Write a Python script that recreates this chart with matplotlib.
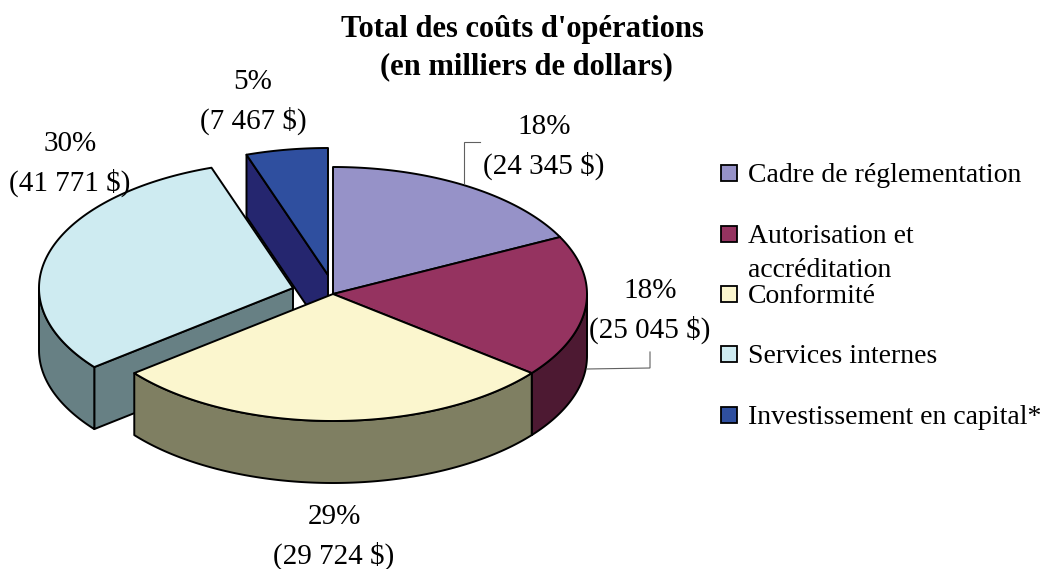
import numpy as np
import matplotlib
matplotlib.use("Agg")
import matplotlib.pyplot as plt
from matplotlib.patches import Polygon, Rectangle

plt.rcParams['font.family'] = ['Liberation Serif', 'DejaVu Serif']

# --- data ---
categories = ["Cadre de réglementation", "Autorisation et\naccréditation", "Conformité",
              "Services internes", "Investissement en capital*"]
percents = [18, 18, 29, 30, 5]
slice_shares = [17.6, 18.1, 28.6, 30.5, 5.2]   # shares as drawn in the picture
amounts = ["24 345", "25 045", "29 724", "41 771", "7 467"]
title_lines = ["Total des coûts d'opérations", "(en milliers de dollars)"]

# --- style ---
top_colors = ["#9692C8", "#953360", "#FBF6CE", "#CEEBF1", "#2F4F9F"]
side_colors = ["#4B4964", "#4D1932", "#7F7F62", "#678084", "#25266F"]
explode = [(0, 0), (0, 0), (0, 0), (-40, -6), (-5, -19)]
draw_order = [4, 3, 0, 1, 2]
label_pos = [(544, 147), (650, 311), (334, 537), (70, 164), (253, 102)]
legend_y = [173, 234, 294, 354, 415]
CX, CY, RX, RY, DEPTH = 333, 294, 254, 127, 62
LW = 1.4
EDGE = "black"

fig = plt.figure(figsize=(10.43, 5.69), dpi=100)
ax = fig.add_axes([0, 0, 1, 1])
ax.set_xlim(0, 1043)
ax.set_ylim(569, 0)
ax.axis("off")


def arc(cx, cy, a0, a1, dy=0):
    t = np.radians(np.linspace(a0, a1, max(int(abs(a1 - a0)) * 2, 2)))
    return np.column_stack([cx + RX * np.sin(t), cy - RY * np.cos(t) + dy])


def poly(pts, color):
    ax.add_patch(Polygon(pts, closed=True, facecolor=color, edgecolor=EDGE,
                         linewidth=LW, joinstyle="round"))


edges = np.concatenate([[0], np.cumsum(slice_shares)]) * 3.6
for i in draw_order:
    a0, a1 = edges[i], edges[i + 1]
    cx, cy = CX + explode[i][0], CY + explode[i][1]
    apex = np.array([cx, cy])
    # visible radial faces
    for a, visible in ((a0, np.sin(np.radians(a0)) < -1e-6), (a1, np.sin(np.radians(a1)) > 1e-6)):
        if visible:
            p = arc(cx, cy, a, a + 1e-3)[0]
            poly([apex, p, p + [0, DEPTH], apex + [0, DEPTH]], side_colors[i])
    # visible outer wall
    w0, w1 = max(a0, 90), min(a1, 270)
    if w1 > w0:
        poly(np.vstack([arc(cx, cy, w0, w1), arc(cx, cy, w1, w0, DEPTH)]), side_colors[i])
    # top face
    poly(np.vstack([[apex], arc(cx, cy, a0, a1)]), top_colors[i])

# leader lines
ax.plot([464, 464, 480], [183, 142, 142], color="#606060", lw=0.8, solid_joinstyle="miter")
ax.plot([587, 650, 650], [369, 368, 352], color="#606060", lw=0.8, solid_joinstyle="miter")

# data labels
for (x, y), p, amt in zip(label_pos, percents, amounts):
    ax.text(x, y, f"{p}%\n({amt} $)", ha="center", va="center", fontsize=21,
            linespacing=1.52, color="black")

# title
ax.text(522, 29, title_lines[0], ha="center", va="center", fontsize=22, fontweight="bold")
ax.text(526, 67, title_lines[1], ha="center", va="center", fontsize=22, fontweight="bold")

# legend
for name, col, y in zip(categories, top_colors, legend_y):
    ax.add_patch(Rectangle((721, y - 8), 16, 16, facecolor=col, edgecolor="black", linewidth=1.3))
    first, *rest = name.split("\n")
    ax.text(748, y + 2.5, first, ha="left", va="center", fontsize=20)
    for k, line in enumerate(rest, 1):
        ax.text(748, y + 2.5 + 34 * k, line, ha="left", va="center", fontsize=20)

fig.savefig("out.png", dpi=100, facecolor="white")
